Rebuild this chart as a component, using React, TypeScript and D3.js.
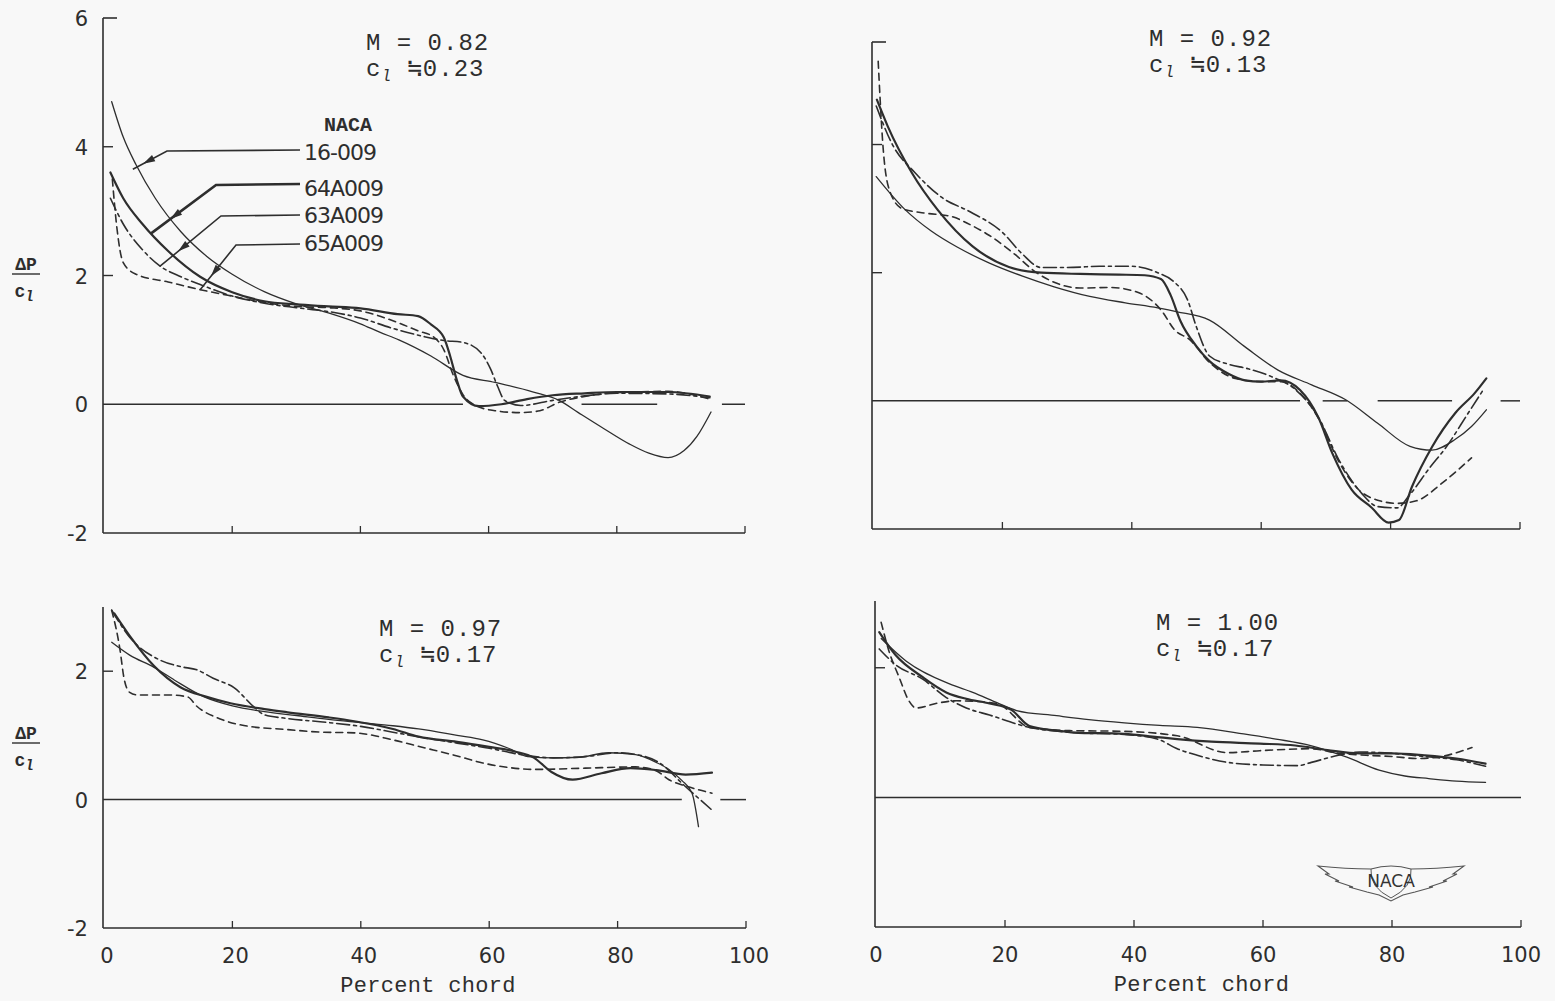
import React from "react";
import * as d3 from "d3";

type Pt = [number, number];

const airfoils = ["16-009", "64A009", "63A009", "65A009"];
const xTicks = [0, 20, 40, 60, 80, 100];
const yTicksUpper = [-2, 0, 2, 4, 6];
const yTicksLower = [-2, 0, 2];

// M = 0.82, cl = 0.23
const m082_16009: Pt[] = [[1.2, 4.7], [3, 4.15], [5, 3.72], [8, 3.2], [12, 2.68], [16, 2.3], [20, 2.02], [25, 1.75], [30, 1.56], [35, 1.42], [40, 1.25], [43, 1.12], [46, 1.0], [51, 0.75], [56, 0.45], [61, 0.34], [67, 0.19], [71, 0.06], [74, -0.13], [78, -0.38], [82, -0.62], [85, -0.76], [88, -0.83], [90.5, -0.72], [92.5, -0.5], [94.7, -0.12]];
const m082_64A009: Pt[] = [[1, 3.6], [3, 3.2], [6, 2.8], [10, 2.38], [15, 1.98], [20, 1.74], [25, 1.6], [30, 1.55], [35, 1.52], [40, 1.49], [45.8, 1.4], [49, 1.37], [51, 1.24], [53, 1.04], [54, 0.75], [55, 0.39], [56, 0.12], [58.5, -0.03], [62, 0.0], [66, 0.08], [70, 0.14], [75, 0.17], [80, 0.19], [88, 0.19], [94.5, 0.12]];
const m082_63A009: Pt[] = [[1, 3.2], [3, 2.8], [6, 2.4], [8.7, 2.15], [12, 1.98], [15, 1.86], [20, 1.68], [25, 1.57], [30, 1.5], [35, 1.44], [40, 1.34], [45, 1.18], [50, 1.05], [53, 0.99], [56, 0.96], [58.8, 0.8], [60.3, 0.55], [61.4, 0.28], [62.5, 0.06], [65, -0.02], [70, 0.06], [75, 0.13], [80, 0.17], [88, 0.16], [94.5, 0.1]];
const m082_65A009: Pt[] = [[1.3, 3.5], [2, 2.75], [3, 2.2], [5, 2.02], [10, 1.9], [15, 1.78], [20, 1.68], [25, 1.58], [30, 1.52], [35, 1.5], [40, 1.45], [45.8, 1.27], [49, 1.14], [51.5, 1.04], [53, 0.85], [54.5, 0.45], [56, 0.15], [58, -0.02], [61, -0.1], [65, -0.13], [68, -0.1], [71, 0.03], [75, 0.12], [80, 0.18], [88, 0.2], [94.5, 0.08]];

// M = 0.92, cl = 0.13
const m092_16009: Pt[] = [[0.5, 3.5], [5, 2.98], [9, 2.65], [13, 2.4], [18, 2.15], [23, 1.95], [28, 1.78], [33.5, 1.63], [39, 1.53], [44, 1.45], [47, 1.39], [52, 1.26], [57.4, 0.85], [62.6, 0.48], [67.8, 0.25], [73, 0.02], [78, -0.35], [83, -0.71], [86.4, -0.77], [90, -0.6], [92.5, -0.4], [94.8, -0.14]];
const m092_64A009: Pt[] = [[0.6, 4.7], [2.3, 4.28], [6, 3.56], [10, 2.98], [15.4, 2.41], [21, 2.09], [26, 2.0], [32, 1.98], [38, 1.97], [42, 1.96], [44.5, 1.9], [46, 1.65], [47.5, 1.25], [50, 0.85], [52, 0.62], [55, 0.42], [57.5, 0.32], [60, 0.3], [63, 0.32], [66, 0.17], [68.8, -0.25], [71, -0.82], [74, -1.39], [77, -1.66], [79.7, -1.9], [81.3, -1.86], [83.3, -1.34], [86.4, -0.72], [90, -0.19], [93, 0.12], [94.8, 0.35]];
const m092_63A009: Pt[] = [[0.5, 4.6], [3, 4.0], [6.5, 3.56], [10.7, 3.17], [15, 2.95], [20, 2.63], [23, 2.3], [26, 2.08], [30, 2.08], [35, 2.1], [40, 2.1], [44, 2.0], [46.5, 1.86], [48.6, 1.58], [50, 1.15], [52, 0.7], [55, 0.57], [58, 0.5], [62, 0.36], [65, 0.2], [68.8, -0.25], [72, -0.92], [75.5, -1.44], [78, -1.65], [81, -1.67], [83, -1.46], [86, -1.05], [88.6, -0.72], [92, -0.19], [94.5, 0.2]];
const m092_65A009: Pt[] = [[0.8, 5.3], [1.6, 3.9], [2.5, 3.3], [4.5, 3.0], [8, 2.93], [12, 2.88], [15, 2.75], [18, 2.58], [22, 2.28], [25, 2.02], [28, 1.85], [32, 1.76], [36.6, 1.77], [41, 1.69], [44.8, 1.38], [46.5, 1.12], [49, 0.95], [52, 0.6], [56, 0.35], [60, 0.3], [63, 0.3], [66, 0.12], [69, -0.3], [72, -0.95], [75, -1.38], [78, -1.55], [81, -1.6], [84, -1.56], [88, -1.28], [92.5, -0.89]];

// M = 0.97, cl = 0.17
const m097_16009: Pt[] = [[1.2, 2.45], [4, 2.25], [7.8, 2.06], [11, 1.86], [15.6, 1.6], [20, 1.46], [25, 1.37], [30, 1.31], [35, 1.25], [40, 1.2], [45, 1.15], [49, 1.1], [55, 1.0], [59, 0.93], [63, 0.8], [66, 0.67], [70, 0.65], [74, 0.66], [78.6, 0.73], [82.8, 0.7], [86, 0.58], [88, 0.47], [90, 0.3], [91.6, 0.1], [92.6, -0.42]];
const m097_64A009: Pt[] = [[1.6, 2.9], [4, 2.55], [7.8, 2.08], [11.9, 1.75], [16, 1.6], [19.7, 1.5], [25, 1.41], [28.6, 1.36], [35, 1.28], [39, 1.22], [45, 1.1], [49, 0.98], [55, 0.9], [60, 0.82], [64, 0.75], [67, 0.65], [69.7, 0.43], [73, 0.31], [77.5, 0.41], [82, 0.49], [86, 0.46], [90.6, 0.39], [94.7, 0.42]];
const m097_63A009: Pt[] = [[1.2, 2.95], [4, 2.53], [8.8, 2.17], [12, 2.07], [14.5, 2.02], [17, 1.89], [20.3, 1.74], [23.4, 1.44], [25, 1.32], [28, 1.27], [35, 1.2], [40, 1.14], [45, 1.05], [50, 0.96], [55, 0.88], [60, 0.8], [65, 0.7], [70, 0.65], [75, 0.67], [80, 0.73], [83, 0.7], [86.4, 0.58], [90.6, 0.2], [95, -0.19]];
const m097_65A009: Pt[] = [[1.2, 2.95], [2.5, 2.33], [3.1, 1.9], [4, 1.67], [5.2, 1.63], [10, 1.63], [13, 1.6], [14.5, 1.45], [18, 1.26], [22, 1.15], [28.6, 1.09], [34, 1.05], [39, 1.04], [45, 0.93], [49.4, 0.82], [55, 0.68], [59, 0.57], [63, 0.5], [67, 0.47], [75, 0.49], [82.8, 0.51], [86, 0.45], [88, 0.31], [91, 0.2], [94.7, 0.1]];

// M = 1.00, cl = 0.17
const m100_16009: Pt[] = [[0.8, 2.45], [4.7, 2.1], [11.4, 1.75], [15, 1.62], [19, 1.45], [21.8, 1.34], [28, 1.26], [33, 1.2], [38.5, 1.15], [44, 1.11], [49.8, 1.08], [57, 0.98], [62, 0.9], [67.4, 0.8], [73, 0.62], [78, 0.42], [82, 0.33], [85.7, 0.29], [90, 0.25], [94.5, 0.23]];
const m100_64A009: Pt[] = [[0.5, 2.55], [3, 2.2], [7.3, 1.85], [10.9, 1.62], [14, 1.52], [17.6, 1.45], [21, 1.35], [23.8, 1.1], [28, 1.03], [30.7, 1.0], [38.5, 0.98], [43.6, 0.93], [46.7, 0.9], [52, 0.86], [59.5, 0.83], [65, 0.8], [70, 0.73], [75, 0.68], [80, 0.68], [85, 0.65], [90, 0.6], [94.5, 0.52]];
const m100_63A009: Pt[] = [[0.5, 2.29], [3, 2.05], [7.3, 1.82], [10.9, 1.54], [14, 1.38], [17.6, 1.27], [23.8, 1.08], [30.7, 1.0], [38.5, 0.97], [43.6, 0.9], [46.7, 0.75], [49.8, 0.65], [54.5, 0.54], [60, 0.5], [65.4, 0.49], [67.5, 0.54], [71.7, 0.65], [75, 0.7], [80, 0.68], [85, 0.63], [90, 0.58], [94.5, 0.48]];
const m100_65A009: Pt[] = [[0.8, 2.7], [2, 2.26], [3.6, 1.85], [5.1, 1.49], [6.2, 1.38], [9.8, 1.46], [12.5, 1.49], [18.7, 1.45], [23.8, 1.08], [30, 1.03], [38, 1.02], [46.7, 0.95], [54.5, 0.69], [59.5, 0.72], [67.5, 0.75], [71.7, 0.68], [76, 0.65], [80, 0.63], [84, 0.6], [87, 0.62], [92.4, 0.77]];

// zero line pieces (percent chord) as drawn in the original
const zeroTL: Pt[] = [[0, 56], [74.5, 86.3], [96.4, 100]];
const zeroTR: Pt[] = [[0, 66], [69.5, 73.3], [78, 89.5], [97, 100]];
const zeroBL: Pt[] = [[0, 90], [96, 100]];
const zeroBR: Pt[] = [[0, 100]];

// where the legend leaders touch the curves (M = 0.82)
const leaderTargets: Pt[] = [[4.5, 3.65], [7.3, 2.65], [8.7, 2.14], [15, 1.78]];

const INK = "#2e2e2e";
const MONO = "'Liberation Mono', 'DejaVu Sans Mono', monospace";
const LETTER = "'DejaVu Sans', 'Liberation Sans', sans-serif";

const styles: Record<string, { w: number; dash: string | undefined }> = {
  "16-009": { w: 1.3, dash: undefined },
  "64A009": { w: 2.2, dash: undefined },
  "63A009": { w: 1.6, dash: "13,4,3,4" },
  "65A009": { w: 1.6, dash: "7,5" },
};

type PanelCfg = {
  x0: number; x1: number; yTop: number; yBot: number; dom: [number, number];
  yTicks: number[]; mach: string; cl: string; tx: number; ty: number;
  series: Pt[][]; zero: Pt[]; topTick: boolean; yLabels: boolean; xLabels: boolean; xLabelDx: number;
};

const panels: PanelCfg[] = [
  { x0: 104, x1: 745, yTop: 18, yBot: 533, dom: [-2, 6], yTicks: yTicksUpper, mach: "0.82", cl: "0.23", tx: 366, ty: 50,
    series: [m082_16009, m082_64A009, m082_63A009, m082_65A009], zero: zeroTL, topTick: true, yLabels: true, xLabels: false, xLabelDx: 0 },
  { x0: 873, x1: 1520, yTop: 42, yBot: 529, dom: [-2, 5.6], yTicks: yTicksUpper, mach: "0.92", cl: "0.13", tx: 1149, ty: 46,
    series: [m092_16009, m092_64A009, m092_63A009, m092_65A009], zero: zeroTR, topTick: true, yLabels: false, xLabels: false, xLabelDx: 0 },
  { x0: 104, x1: 746, yTop: 607, yBot: 928, dom: [-2, 3], yTicks: yTicksLower, mach: "0.97", cl: "0.17", tx: 379, ty: 636,
    series: [m097_16009, m097_64A009, m097_63A009, m097_65A009], zero: zeroBL, topTick: false, yLabels: true, xLabels: true, xLabelDx: 3 },
  { x0: 876, x1: 1521, yTop: 601, yBot: 927, dom: [-2, 3.03], yTicks: yTicksLower, mach: "1.00", cl: "0.17", tx: 1156, ty: 630,
    series: [m100_16009, m100_64A009, m100_63A009, m100_65A009], zero: zeroBR, topTick: false, yLabels: false, xLabels: true, xLabelDx: 0 },
];

function Panel({ p, idx }: { p: PanelCfg; idx: number }) {
  const x = d3.scaleLinear().domain([0, 100]).range([p.x0, p.x1]);
  const y = d3.scaleLinear().domain(p.dom).range([p.yBot, p.yTop]);
  const line = d3.line<Pt>().x((d) => x(d[0])).y((d) => y(d[1])).curve(d3.curveMonotoneX);

  return (
    <g>
      {/* axes */}
      <line x1={p.x0 - 1} x2={p.x0 - 1} y1={p.yTop} y2={p.yBot} stroke={INK} strokeWidth={1.6} />
      <line x1={p.x0 - 1} x2={x(100)} y1={p.yBot} y2={p.yBot} stroke={INK} strokeWidth={1.6} />
      {p.topTick && <line x1={p.x0 - 1} x2={p.x0 + 13} y1={p.yTop} y2={p.yTop} stroke={INK} strokeWidth={1.6} />}
      {p.yTicks.filter((t) => t > p.dom[0] && t !== 0 && y(t) > p.yTop + 4).map((t) => (
        <line key={t} x1={p.x0 - 1} x2={p.x0 + 9} y1={y(t)} y2={y(t)} stroke={INK} strokeWidth={1.4} />
      ))}
      {xTicks.filter((t) => t > 0).map((t) => (
        <line key={t} x1={x(t)} x2={x(t)} y1={p.yBot} y2={p.yBot - 7} stroke={INK} strokeWidth={1.3} />
      ))}
      {/* zero line */}
      {p.zero.map((s, i) => (
        <line key={i} x1={i === 0 ? p.x0 - 1 : x(s[0])} x2={x(s[1])} y1={y(0)} y2={y(0)} stroke={INK} strokeWidth={1.5} />
      ))}
      {/* tick labels */}
      {p.yLabels && p.yTicks.map((t) => (
        <text key={t} x={88} y={y(t) + 8} textAnchor="end" fontFamily={LETTER} fontSize={21} fill={INK}>
          {t < 0 ? "-" + Math.abs(t) : t}
        </text>
      ))}
      {p.xLabels && xTicks.map((t) => (
        <text key={t} x={x(t) + p.xLabelDx} y={p.yBot + 35} textAnchor="middle" fontFamily={LETTER} fontSize={21} fill={INK}>
          {t}
        </text>
      ))}
      {p.xLabels && (
        <text x={(p.x0 + p.x1) / 2 + 3} y={p.yBot + 64} textAnchor="middle" fontFamily={MONO} fontSize={22} letterSpacing={0.3} fill={INK}>
          Percent chord
        </text>
      )}
      {/* curves */}
      {p.series.map((s, i) => (
        <path key={airfoils[i]} d={line(s) || ""} fill="none" stroke={INK}
          strokeWidth={styles[airfoils[i]].w} strokeDasharray={styles[airfoils[i]].dash} strokeLinecap="round" />
      ))}
      {/* M and cl */}
      <text x={p.tx} y={p.ty} fontFamily={MONO} fontSize={24} letterSpacing={1} fill={INK}>
        {"M = " + p.mach}
      </text>
      <text x={p.tx} y={p.ty + 26} fontFamily={MONO} fontSize={24} letterSpacing={1} fill={INK}>
        c<tspan dy={5} fontSize={16} fontStyle="italic">l</tspan>
        <tspan dy={-5}>{" \u2252" + p.cl}</tspan>
      </text>
      {idx === 0 && <Legend x={x} y={y} />}
    </g>
  );
}

function Legend({ x, y }: { x: d3.ScaleLinear<number, number>; y: d3.ScaleLinear<number, number> }) {
  const labelY = [152, 188, 215, 243];
  const kinks: Pt[] = [[167, 151], [216, 185], [221, 216], [236, 245]];
  return (
    <g>
      <text x={348} y={131} textAnchor="middle" fontFamily={MONO} fontSize={20} fontWeight="bold" fill={INK}>NACA</text>
      {airfoils.map((a, i) => {
        const tx = x(leaderTargets[i][0]);
        const ty = y(leaderTargets[i][1]);
        const [kx, ky] = kinks[i];
        const ang = Math.atan2(ty - ky, tx - kx);
        const px = kx + 0.7 * (tx - kx);
        const py = ky + 0.7 * (ty - ky);
        const c = Math.cos(ang), s = Math.sin(ang);
        const bx = px - 12 * c, by = py - 12 * s;
        const tri = `M${px},${py} L${bx - 3.5 * s},${by + 3.5 * c} L${bx + 3.5 * s},${by - 3.5 * c} Z`;
        return (
          <g key={a}>
            <path d={`M300,${ky - 1} L${kx},${ky} L${tx},${ty}`} fill="none" stroke={INK} strokeWidth={i === 1 ? 2.6 : 1.6} />
            <path d={tri} fill={INK} />
            <text x={304} y={labelY[i] + 8} fontFamily={LETTER} fontSize={22} letterSpacing={-1} fill={INK}>{a}</text>
          </g>
        );
      })}
    </g>
  );
}

function YLabel({ cy }: { cy: number }) {
  return (
    <g fill={INK}>
      <text x={26} y={cy - 7} textAnchor="middle" fontFamily={MONO} fontSize={18} fontWeight="bold">{"\u0394P"}</text>
      <line x1={12} x2={40} y1={cy - 3} y2={cy - 3} stroke={INK} strokeWidth={1.4} />
      <text x={24} y={cy + 20} textAnchor="middle" fontFamily={MONO} fontSize={18} fontWeight="bold">
        c<tspan dy={4} fontSize={14} fontStyle="italic">l</tspan>
      </text>
    </g>
  );
}

function NacaLogo() {
  const wing = "M-73,-14 Q-45,-11 -20,-11 Q0,-17 20,-11 Q45,-11 73,-14 L62,-6 L66,-6 L52,1 L56,1 L38,7 L42,7 L24,12 L12,15 L0,21 L-12,15 L-24,12 L-42,7 L-38,7 L-56,1 L-52,1 L-66,-6 L-62,-6 Z";
  return (
    <g transform="translate(1391,880)">
      <path d={wing} fill="none" stroke="#555" strokeWidth={1.1} />
      <path d="M-20,-11 Q-22,7 0,18 Q22,7 20,-11" fill="none" stroke="#555" strokeWidth={1} />
      <text x={0} y={7} textAnchor="middle" fontFamily={LETTER} fontSize={17} fill="#333">NACA</text>
    </g>
  );
}

export default function App() {
  return (
    <svg width={1555} height={1001} style={{ position: "absolute", left: 0, top: 0, background: "#f8f8f8" }}>
      {panels.map((p, i) => <Panel key={i} p={p} idx={i} />)}
      <YLabel cy={277} />
      <YLabel cy={746} />
      <NacaLogo />
    </svg>
  );
}
